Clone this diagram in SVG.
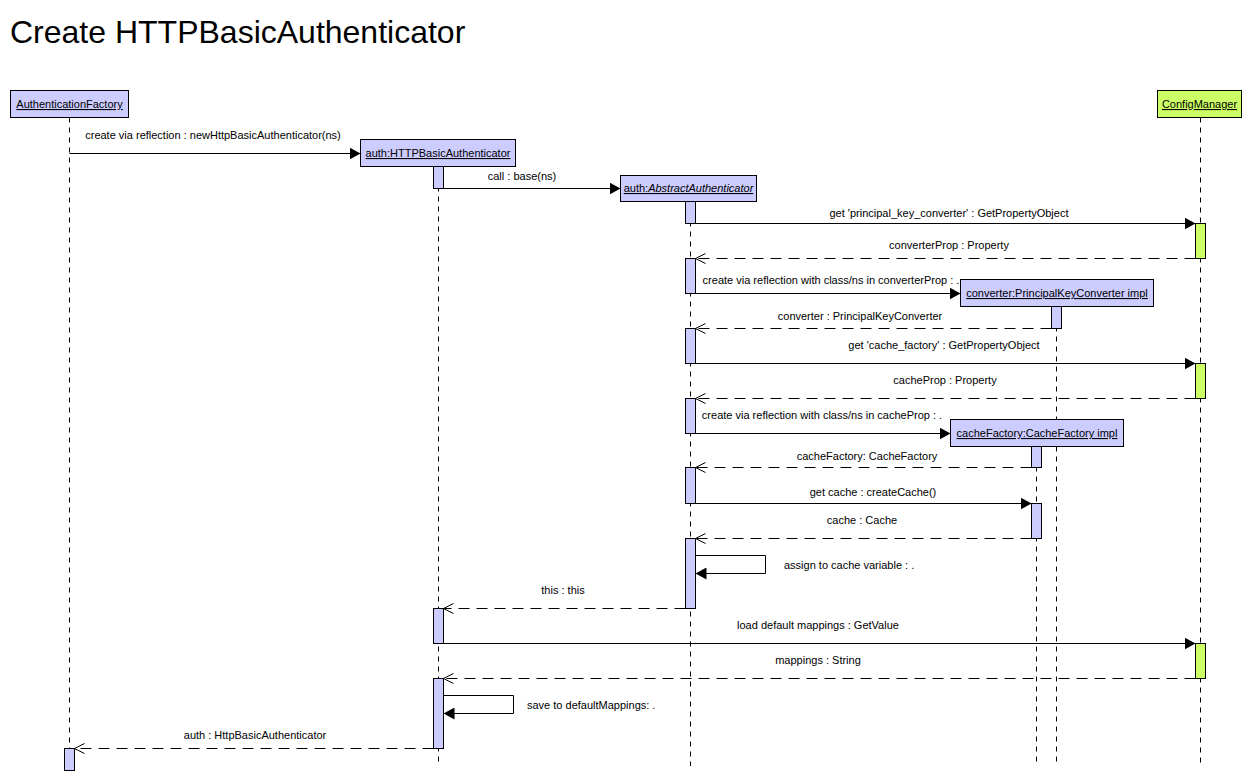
<svg xmlns="http://www.w3.org/2000/svg" width="1260" height="781" viewBox="0 0 1260 781">
<style>
text{font-family:"Liberation Sans",Arial,sans-serif;font-size:11px;fill:#000}
.title{font-size:32px}
.nlab{text-decoration:underline;text-anchor:middle}
.mlab{text-anchor:middle}
.box{fill:#ccccff;stroke:#000;stroke-width:1}
.gbox{fill:#ccff66;stroke:#000;stroke-width:1}
.life{stroke:#000;stroke-width:1;stroke-dasharray:5 5;fill:none}
.act{fill:#ccccff;stroke:#000;stroke-width:1}
.gact{fill:#ccff66;stroke:#000;stroke-width:1}
.call{stroke:#000;stroke-width:1;fill:none;marker-end:url(#filled)}
.ret{stroke:#000;stroke-width:1;fill:none;stroke-dasharray:11 7;marker-end:url(#open)}
</style>
<defs>
<marker id="filled" viewBox="0 0 11 12" refX="11" refY="6" markerWidth="11" markerHeight="12" markerUnits="userSpaceOnUse" orient="auto">
<path d="M0,0 L11,6 L0,12 z" fill="#000"/>
</marker>
<marker id="open" viewBox="-1 -1 13 13" refX="10" refY="5" markerWidth="13" markerHeight="13" markerUnits="userSpaceOnUse" orient="auto" overflow="visible">
<path d="M0,0 L10,5 L0,10" fill="none" stroke="#000" stroke-width="1" stroke-dasharray="none"/>
</marker>
</defs>
<rect x="0" y="0" width="1260" height="781" fill="#fff"/>
<text class="title" x="10" y="43">Create HTTPBasicAuthenticator</text>

<g id="authenticationFactory">
<line class="life" x1="69.5" y1="117.5" x2="69.5" y2="748.5"/>
<rect class="box" x="10.5" y="90.5" width="118" height="27"/>
<text class="nlab" x="69.5" y="108">AuthenticationFactory</text>
<rect class="act" x="64.5" y="748.5" width="10" height="22"/>
</g>

<g id="httpBasicAuthenticator">
<line class="life" x1="438.5" y1="166.5" x2="438.5" y2="766"/>
<rect class="box" x="360.5" y="139.5" width="155" height="27"/>
<text class="nlab" x="438" y="157">auth:HTTPBasicAuthenticator</text>
<rect class="act" x="433.5" y="166.5" width="10" height="22"/>
<rect class="act" x="433.5" y="608.5" width="10" height="35"/>
<rect class="act" x="433.5" y="678.5" width="10" height="70"/>
</g>

<g id="abstractAuthenticator">
<line class="life" x1="690.5" y1="201.5" x2="690.5" y2="766"/>
<rect class="box" x="620.5" y="175.5" width="136" height="26"/>
<text class="nlab" x="688.5" y="192">auth:<tspan font-style="italic">AbstractAuthenticator</tspan></text>
<rect class="act" x="685.5" y="201.5" width="10" height="22"/>
<rect class="act" x="685.5" y="258.5" width="10" height="35"/>
<rect class="act" x="685.5" y="328.5" width="10" height="35"/>
<rect class="act" x="685.5" y="398.5" width="10" height="35"/>
<rect class="act" x="685.5" y="467.5" width="10" height="36"/>
<rect class="act" x="685.5" y="538.5" width="10" height="70"/>
</g>

<g id="principalKeyConverter">
<line class="life" x1="1056.5" y1="306.5" x2="1056.5" y2="766"/>
<rect class="box" x="960.5" y="279.5" width="193" height="27"/>
<text class="nlab" x="1057" y="297">converter:PrincipalKeyConverter impl</text>
<rect class="act" x="1051.5" y="306.5" width="10" height="22"/>
</g>

<g id="cacheFactory">
<line class="life" x1="1036.5" y1="446.5" x2="1036.5" y2="766"/>
<rect class="box" x="950.5" y="419.5" width="173" height="27"/>
<text class="nlab" x="1037" y="437">cacheFactory:CacheFactory impl</text>
<rect class="act" x="1031.5" y="446.5" width="10" height="21"/>
<rect class="act" x="1031.5" y="503.5" width="10" height="35"/>
</g>

<g id="configManager">
<line class="life" x1="1200.5" y1="117.5" x2="1200.5" y2="766"/>
<rect class="gbox" x="1157.5" y="90.5" width="84" height="27"/>
<text class="nlab" x="1199.5" y="108">ConfigManager</text>
<rect class="gact" x="1195.5" y="223.5" width="10" height="35"/>
<rect class="gact" x="1195.5" y="363.5" width="10" height="35"/>
<rect class="gact" x="1195.5" y="643.5" width="10" height="35"/>
</g>

<g id="connectors">
<line class="call" x1="69.5" y1="153.5" x2="360.5" y2="153.5"/>
<text class="mlab" x="213" y="139">create via reflection : newHttpBasicAuthenticator(ns)</text>
<line class="call" x1="443.5" y1="188.5" x2="620.5" y2="188.5"/>
<text class="mlab" x="522" y="180">call : base(ns)</text>
<line class="call" x1="695.5" y1="223.5" x2="1195.5" y2="223.5"/>
<text class="mlab" x="949" y="217">get 'principal_key_converter' : GetPropertyObject</text>
<line class="ret" x1="1195.5" y1="258.5" x2="695.5" y2="258.5"/>
<text class="mlab" x="949" y="249">converterProp : Property</text>
<line class="call" x1="695.5" y1="293.5" x2="960.5" y2="293.5"/>
<text class="mlab" x="831" y="284">create via reflection with class/ns in converterProp : .</text>
<line class="ret" x1="1051.5" y1="328.5" x2="695.5" y2="328.5"/>
<text class="mlab" x="860" y="320">converter : PrincipalKeyConverter</text>
<line class="call" x1="695.5" y1="363.5" x2="1195.5" y2="363.5"/>
<text class="mlab" x="944" y="349">get 'cache_factory' : GetPropertyObject</text>
<line class="ret" x1="1195.5" y1="398.5" x2="695.5" y2="398.5"/>
<text class="mlab" x="945" y="384">cacheProp : Property</text>
<line class="call" x1="695.5" y1="433.5" x2="950.5" y2="433.5"/>
<text class="mlab" x="822" y="419">create via reflection with class/ns in cacheProp : .</text>
<line class="ret" x1="1031.5" y1="467.5" x2="695.5" y2="467.5"/>
<text class="mlab" x="867" y="460">cacheFactory: CacheFactory</text>
<line class="call" x1="695.5" y1="503.5" x2="1031.5" y2="503.5"/>
<text class="mlab" x="873" y="496">get cache : createCache()</text>
<line class="ret" x1="1031.5" y1="538.5" x2="695.5" y2="538.5"/>
<text class="mlab" x="862" y="524">cache : Cache</text>
<path class="call" d="M695.5,555.5 H765.5 V573.5 H695.5"/>
<text x="784" y="569">assign to cache variable : .</text>
<line class="ret" x1="685.5" y1="608.5" x2="443.5" y2="608.5"/>
<text class="mlab" x="563" y="594">this : this</text>
<line class="call" x1="443.5" y1="643.5" x2="1195.5" y2="643.5"/>
<text class="mlab" x="818" y="629">load default mappings : GetValue</text>
<line class="ret" x1="1195.5" y1="678.5" x2="443.5" y2="678.5"/>
<text class="mlab" x="818" y="664">mappings : String</text>
<path class="call" d="M443.5,695.5 H513.5 V713.5 H443.5"/>
<text x="527" y="709">save to defaultMappings: .</text>
<line class="ret" x1="433.5" y1="748.5" x2="74.5" y2="748.5"/>
<text class="mlab" x="255" y="739">auth : HttpBasicAuthenticator</text>
</g>
</svg>
